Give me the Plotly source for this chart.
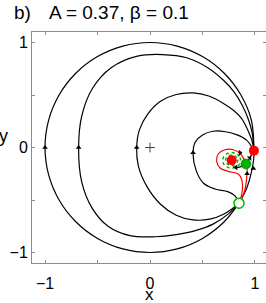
import plotly.graph_objects as go

# ---- data ----
# unit circle trajectory (clockwise from source at lower right to node at (1,0))
c1_x = [0.848, 0.707, 0.5, 0.259, 0.0, -0.259, -0.5, -0.707, -0.866, -0.966, -1.0, -0.966, -0.866, -0.707, -0.5, -0.259, 0.0, 0.259, 0.5, 0.707, 0.866, 0.966, 0.99]
c1_y = [-0.53, -0.707, -0.866, -0.966, -1.0, -0.966, -0.866, -0.707, -0.5, -0.259, 0.0, 0.259, 0.5, 0.707, 0.866, 0.966, 1.0, 0.966, 0.866, 0.707, 0.5, 0.259, -0.03]
c1s_x = [0.848, 0.92, 0.965, 0.988, 0.99]
c1s_y = [-0.53, -0.39, -0.24, -0.11, -0.03]
c2_x = [0.848, 0.75, 0.6, 0.44, 0.25, 0.05, -0.19, -0.4, -0.55, -0.65, -0.68, -0.65, -0.55, -0.37, -0.12, 0.12, 0.35, 0.55, 0.70, 0.80, 0.88, 0.94, 0.975, 0.99]
c2_y = [-0.53, -0.63, -0.73, -0.79, -0.83, -0.85, -0.84, -0.75, -0.58, -0.33, 0.0, 0.3, 0.56, 0.76, 0.87, 0.885, 0.855, 0.76, 0.64, 0.53, 0.4, 0.26, 0.13, -0.03]
c3_x = [0.848, 0.78, 0.7, 0.58, 0.41, 0.25, 0.1, -0.03, -0.11, -0.127, -0.1, -0.02, 0.1, 0.25, 0.41, 0.56, 0.7, 0.8, 0.87, 0.93, 0.97, 0.99]
c3_y = [-0.53, -0.585, -0.635, -0.68, -0.69, -0.645, -0.54, -0.37, -0.18, 0.0, 0.17, 0.32, 0.44, 0.505, 0.52, 0.49, 0.42, 0.35, 0.28, 0.17, 0.07, -0.03]
c4_x = [0.848, 0.81, 0.74, 0.62, 0.51, 0.44, 0.41, 0.43, 0.5, 0.6, 0.72, 0.83, 0.92, 0.99]
c4_y = [-0.53, -0.46, -0.42, -0.395, -0.34, -0.22, -0.06, 0.05, 0.12, 0.155, 0.15, 0.12, 0.07, -0.03]
# red separatrices of the saddle
rl_x = [0.848, 0.87, 0.882, 0.872, 0.84, 0.746, 0.667, 0.635, 0.65, 0.714, 0.794, 0.857, 0.895, 0.914]
rl_y = [-0.53, -0.46, -0.38, -0.3, -0.252, -0.227, -0.195, -0.13, -0.062, -0.021, -0.021, -0.055, -0.11, -0.157]
rr_x = [0.848, 0.88, 0.905, 0.92, 0.925, 0.914]
rr_y = [-0.53, -0.47, -0.4, -0.3, -0.2, -0.157]
# black unstable branches of the saddle
bu1_x = [0.914, 0.95, 0.99]
bu1_y = [-0.157, -0.1, -0.03]
bu2_x = [0.914, 0.86, 0.81, 0.79]
bu2_y = [-0.157, -0.185, -0.19, -0.18]
# green dotted cycles around the inner focus
g1_x = [0.863, 0.852, 0.820, 0.778, 0.736, 0.704, 0.693, 0.704, 0.736, 0.778, 0.820, 0.852, 0.863]
g1_y = [-0.122, -0.085, -0.057, -0.047, -0.057, -0.085, -0.122, -0.160, -0.187, -0.197, -0.187, -0.160, -0.122]
g2_x = [0.836, 0.828, 0.807, 0.778, 0.749, 0.728, 0.720, 0.728, 0.749, 0.778, 0.807, 0.828, 0.836]
g2_y = [-0.122, -0.097, -0.079, -0.072, -0.079, -0.097, -0.122, -0.147, -0.165, -0.172, -0.165, -0.147, -0.122]
# fixed points
red_x = [0.99, 0.778]
red_y = [-0.03, -0.122]
gfill_x = [0.914]
gfill_y = [-0.157]
gopen_x = [0.848]
gopen_y = [-0.53]
# direction arrows
arr_x = [-1.0, -0.68, -0.127, 0.41, 0.985, 0.925, 0.857, 0.82, 0.95]
arr_y = [0.0, 0.0, 0.0, -0.05, -0.2, -0.25, -0.05, -0.19, -0.1]
arr_sym = ["triangle-up", "triangle-up", "triangle-up", "triangle-up", "triangle-up", "triangle-up", "triangle-right", "triangle-left", "triangle-ne"]
tick_vals = [-1, -0.5, 0, 0.5, 1]
tick_text = ["\u22121", "", "0", "", "1"]

fig = go.Figure()
def line(x, y, color, width=1.2, dash="solid"):
    fig.add_trace(go.Scatter(x=x, y=y, mode="lines", line=dict(color=color, width=width, shape="spline", dash=dash),
                             hoverinfo="skip", showlegend=False))

for xs, ys in [(c1_x, c1_y), (c1s_x, c1s_y), (c2_x, c2_y), (c3_x, c3_y), (c4_x, c4_y), (bu1_x, bu1_y), (bu2_x, bu2_y)]:
    line(xs, ys, "black")
line(rl_x, rl_y, "#ff0000")
line(rr_x, rr_y, "#ff0000")
line(g1_x, g1_y, "#00b400", 1.5, "dot")
line(g2_x, g2_y, "#00b400", 1.5, "dot")

fig.add_trace(go.Scatter(x=arr_x, y=arr_y, mode="markers", marker=dict(symbol=arr_sym, size=5, color="black"),
                         showlegend=False, hoverinfo="skip"))
fig.add_trace(go.Scatter(x=[0], y=[0], mode="markers", marker=dict(symbol="cross-thin", size=7, line=dict(color="#444", width=1)),
                         showlegend=False, hoverinfo="skip"))
fig.add_trace(go.Scatter(x=red_x, y=red_y, mode="markers", marker=dict(size=10, color="#ff0000"), showlegend=False))
fig.add_trace(go.Scatter(x=gfill_x, y=gfill_y, mode="markers", marker=dict(size=10, color="#00b400", line=dict(color="#006000", width=0.5)), showlegend=False))
fig.add_trace(go.Scatter(x=gopen_x, y=gopen_y, mode="markers", marker=dict(size=10, color="white", line=dict(color="#00b400", width=1.5)), showlegend=False))

axis_common = dict(showgrid=False, zeroline=False, showline=True, mirror="ticks", linecolor="#8c8c8c", linewidth=1,
                   ticks="inside", ticklen=3, tickcolor="#8c8c8c", tickvals=tick_vals, ticktext=tick_text,
                   tickfont=dict(family="Liberation Sans, Arial", size=16, color="black"))
fig.update_xaxes(range=[-1.124, 1.105], ticklabelstandoff=6, **axis_common)
fig.update_yaxes(range=[-1.1, 1.1], **axis_common)

font = dict(family="Liberation Sans, Arial", color="black")
fig.update_layout(
    width=266, height=303, margin=dict(l=32, r=0, t=32, b=40),
    paper_bgcolor="white", plot_bgcolor="white",
    annotations=[
        dict(text="b)", x=-0.0855, y=1.0844, xref="paper", yref="paper", xanchor="left", yanchor="middle", showarrow=False, font=dict(size=19, **font)),
        dict(text="A = 0.37, \u03b2 = 0.1", x=0.064, y=1.0844, xref="paper", yref="paper", xanchor="left", yanchor="middle", showarrow=False, font=dict(size=19, **font)),
        dict(text="x", x=0.504, y=-0.186, xref="paper", yref="paper", xanchor="center", yanchor="bottom", showarrow=False, font=dict(size=17, **font)),
        dict(text="y", x=-0.1197, y=0.55, xref="paper", yref="paper", xanchor="center", yanchor="middle", showarrow=False, font=dict(size=18, **font)),
    ],
)
fig.write_html("out.html", config={"displayModeBar": False},
               post_script="document.body.style.margin='0px';document.body.style.overflow='hidden';")
